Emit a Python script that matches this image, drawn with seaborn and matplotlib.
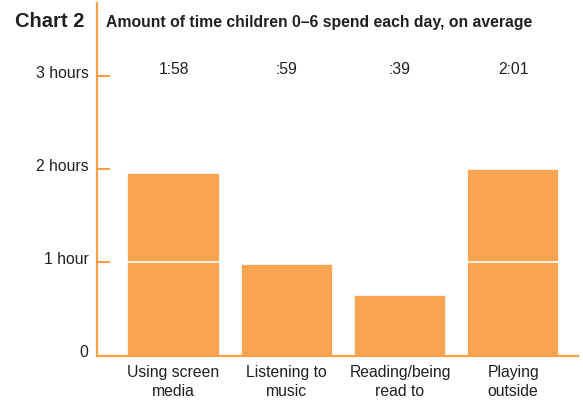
import matplotlib
matplotlib.use("Agg")
import matplotlib.pyplot as plt
import matplotlib.transforms as mtransforms
import numpy as np
import pandas as pd
import seaborn as sns

# ---- data ----
categories = ["Using screen\nmedia", "Listening to\nmusic", "Reading/being\nread to", "Playing\noutside"]
minutes = [118, 59, 39, 121]
ytick_values = [0, 1, 2, 3]
ytick_labels = ["0", "1 hour", "2 hours", "3 hours"]
chart_label = "Chart 2"
title = "Amount of time children 0\u20136 spend each day, on average"

BAR = "#F8A450"
AXIS = "#F7A047"
TEXT = "#231F20"

sns.set_theme(style="white")
plt.rcParams["font.family"] = ["Liberation Sans", "DejaVu Sans"]

fig = plt.figure(figsize=(5.83, 4.0), dpi=100)
ax = fig.add_axes([97 / 583, (400 - 355.5) / 400, (578 - 97) / 583, (355.5 - 3) / 400])

hours = np.array(minutes) / 60.0
n_layers = int(np.ceil(hours.max()))
# draw cumulative hour blocks, tallest first, so white edges separate each hour
for k in reversed(range(n_layers)):
    tops = np.minimum(hours, k + 1)
    df = pd.DataFrame({"cat": categories, "top": tops})
    sns.barplot(data=df, x="cat", y="top", order=categories, color=BAR,
                saturation=1, width=0.815, edgecolor="white", linewidth=1.2,
                ax=ax, zorder=2)

ax.set_xlim(-0.676, 3.572)
ax.set_ylim(0, 3.79)
ax.set_xlabel("")
ax.set_ylabel("")

for s in ["top", "right"]:
    ax.spines[s].set_visible(False)
for s in ["left", "bottom"]:
    ax.spines[s].set_color(AXIS)
    ax.spines[s].set_linewidth(1.6)
    ax.spines[s].set_zorder(3)

ax.set_yticks(ytick_values)
ax.set_yticklabels(ytick_labels)
ax.tick_params(axis="y", left=True, direction="in", length=9, width=1.5, color=AXIS,
               pad=6, labelsize=11.3, labelcolor=TEXT)
ax.tick_params(axis="x", bottom=False, length=0, pad=7, labelsize=11.3, labelcolor=TEXT)
offset = mtransforms.ScaledTranslation(0, 4.5 / 100, fig.dpi_scale_trans)
for lab in ax.get_yticklabels():
    lab.set_transform(lab.get_transform() + offset)
for lab in ax.get_xticklabels():
    lab.set_linespacing(1.32)

# value labels
for i, m in enumerate(minutes):
    h, mm = divmod(m, 60)
    txt = (f"{h}:{mm:02d}" if h else f":{mm:02d}")
    ax.text(i, 3.07, txt, ha="center", va="center", fontsize=11.3, color=TEXT)

fig.text(15 / 583, 1 - 27.3 / 400, chart_label, ha="left", va="baseline",
         fontsize=14.5, fontweight="bold", color=TEXT)
fig.text(106 / 583, 1 - 27.3 / 400, title, ha="left", va="baseline",
         fontsize=11.3, fontweight="bold", color=TEXT)

fig.savefig("out.png", dpi=100, facecolor="white")
